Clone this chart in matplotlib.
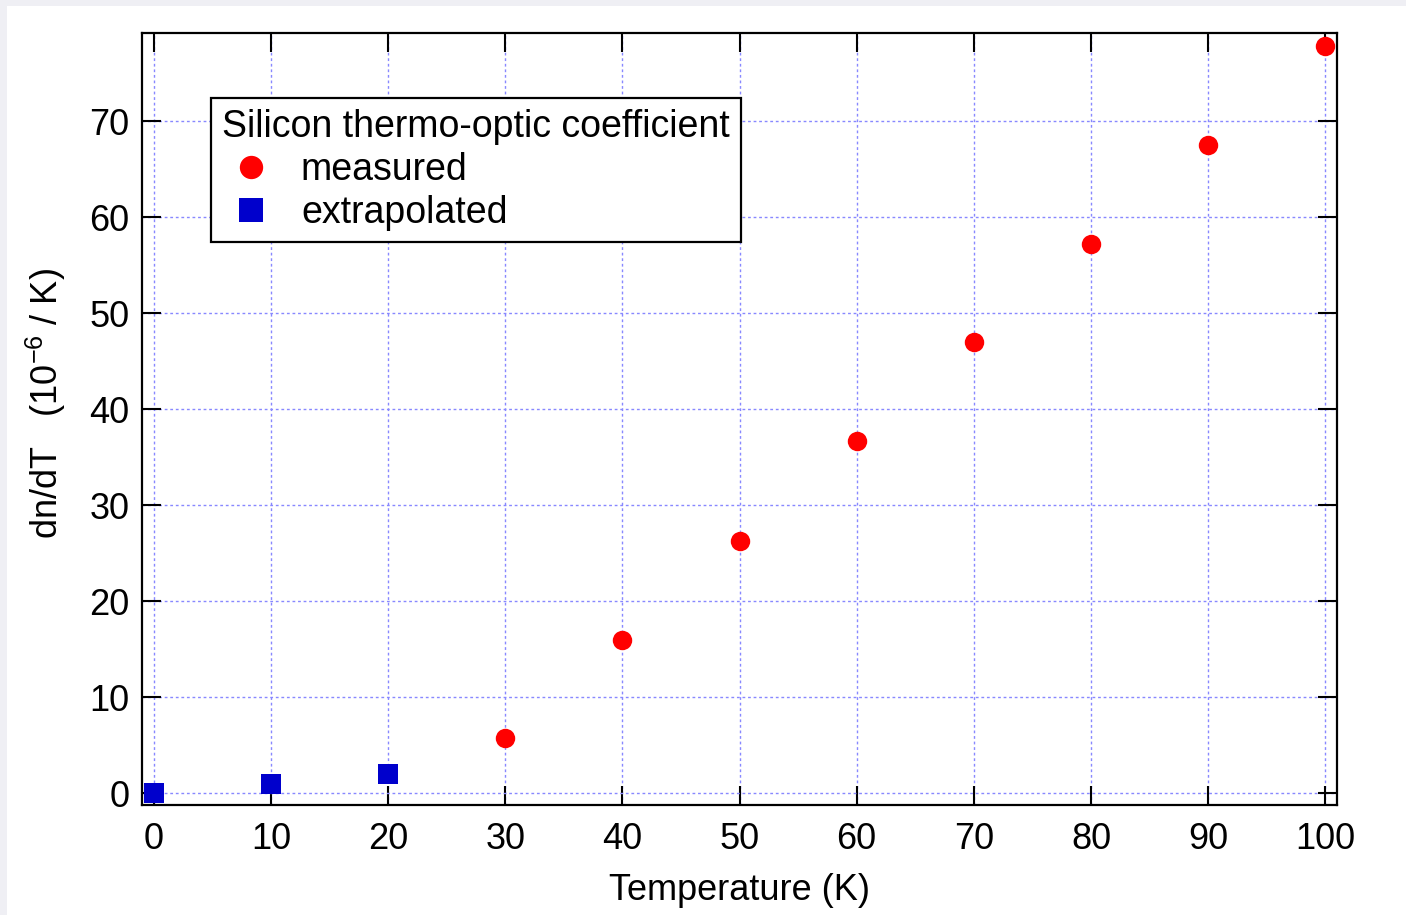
import numpy as np
import matplotlib.pyplot as plt
from matplotlib.patches import Rectangle

# silicon dn/dT vs temperature
temp_measured = [30, 40, 50, 60, 70, 80, 90, 100]
dndt_measured = [5.8, 16.0, 26.3, 36.7, 47.0, 57.2, 67.5, 77.8]

temp_extrap = [0, 10, 20]
dndt_extrap = [0.0, 0.95, 2.0]

xticks = [0, 10, 20, 30, 40, 50, 60, 70, 80, 90, 100]
yticks = [0, 10, 20, 30, 40, 50, 60, 70]

plt.rcParams['font.family'] = ['Liberation Sans', 'DejaVu Sans']

fig = plt.figure(figsize=(14.06, 9.15), dpi=100, facecolor='#efeff4')
# white panel inside the light grey border
fig.patches.append(Rectangle((7 / 1406, 0), 1, 1 - 6 / 915, transform=fig.transFigure,
                             facecolor='white', edgecolor='none', zorder=-10))

ax = fig.add_axes([142 / 1406, 1 - 805 / 915, 1195 / 1406, 772 / 915])
ax.set_facecolor('white')

ax.plot(temp_measured, dndt_measured, 'o', color='#ff0000', markersize=14,
        markeredgewidth=0, label='measured', zorder=3, clip_on=False)
ax.plot(temp_extrap, dndt_extrap, 's', color='#0000cc', markersize=14,
        markeredgewidth=0, label='extrapolated', zorder=3, clip_on=False)

ax.set_xlim(-1.0, 101.0)
ax.set_ylim(-1.2, 79.2)
ax.set_xticks(xticks)
ax.set_yticks(yticks)

ax.grid(True, color='#8888ff', linestyle=(0, (2, 2)), linewidth=1.0)
ax.set_axisbelow(True)

for s in ax.spines.values():
    s.set_linewidth(1.6)
ax.tick_params(direction='in', length=14, width=1.5, labelsize=26,
               top=True, right=True, pad=9)
ax.tick_params(axis='x', pad=12)

ax.set_xlabel('Temperature (K)', fontsize=26, labelpad=12)
ax.set_ylabel(r'dn/dT   (10$^{\mathregular{-6}}$ / K)', fontsize=26)
ax.yaxis.set_label_coords(-0.062, 0.52)

leg = ax.legend(title='Silicon thermo-optic coefficient', loc='upper left',
                bbox_to_anchor=(0.0577, 0.9158), borderaxespad=0,
                fontsize=27, title_fontsize=27, fancybox=False,
                edgecolor='black', framealpha=1, handletextpad=0.55,
                handlelength=1.55, borderpad=0.3, labelspacing=0.18,
                markerscale=1.2, alignment='left')
leg.get_frame().set_linewidth(1.6)

fig.savefig('out.png', dpi=100, facecolor=fig.get_facecolor())
